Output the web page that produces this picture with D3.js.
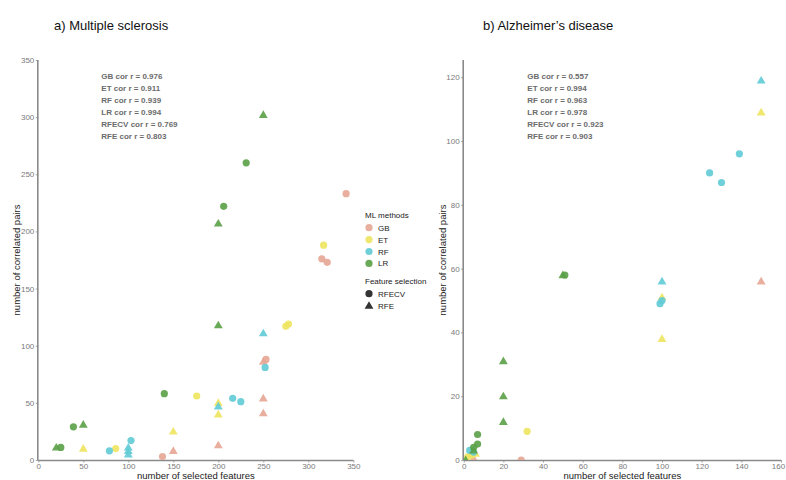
<!DOCTYPE html>
<html>
<head>
<meta charset="utf-8">
<script src="https://cdn.jsdelivr.net/npm/d3@7"></script>
<style>
  html, body { margin: 0; padding: 0; background: #fff; }
  svg { display: block; font-family: "Liberation Sans", Arial, sans-serif; }
</style>
</head>
<body>
<svg id="chart" width="786" height="480"></svg>
<script>
// ---- Data: [selected features, correlated pairs, feature-selection method] ----
// a) Multiple sclerosis
const msGB = [[138,3,"RFECV"],[150,8,"RFE"],[200,13,"RFE"],[250,41,"RFE"],[250,54,"RFE"],[250,86,"RFE"],[253,88,"RFECV"],[315,176,"RFECV"],[321,173,"RFECV"],[342,233,"RFECV"]];
const msET = [[50,10,"RFE"],[86,10,"RFECV"],[150,25,"RFE"],[176,56,"RFECV"],[200,50,"RFE"],[200,40,"RFE"],[275,117,"RFECV"],[278,119,"RFECV"],[317,188,"RFECV"]];
const msRF = [[79,8,"RFECV"],[100,5,"RFE"],[100,8,"RFE"],[100,11,"RFE"],[103,17,"RFECV"],[200,47,"RFE"],[216,54,"RFECV"],[225,51,"RFECV"],[252,81,"RFECV"],[250,111,"RFE"]];
const msLR = [[20,11,"RFE"],[25,11,"RFECV"],[39,29,"RFECV"],[50,31,"RFE"],[140,58,"RFECV"],[200,118,"RFE"],[200,207,"RFE"],[206,222,"RFECV"],[231,260,"RFECV"],[250,302,"RFE"]];

// b) Alzheimer's disease
const adGB = [[29,0,"RFECV"],[5,0.5,"RFE"],[150,56,"RFE"]];
const adET = [[2,1,"RFECV"],[4,1.5,"RFECV"],[6,2,"RFE"],[32,9,"RFECV"],[100,38,"RFE"],[100,51,"RFE"],[150,109,"RFE"]];
const adRF = [[3,3,"RFECV"],[5,2.5,"RFECV"],[99,49,"RFECV"],[100,50,"RFECV"],[100,56,"RFE"],[124,90,"RFECV"],[130,87,"RFECV"],[139,96,"RFECV"],[150,119,"RFE"]];
const adLR = [[1,0,"RFE"],[5,3,"RFE"],[5,4,"RFECV"],[7,5,"RFECV"],[7,8,"RFECV"],[20,12,"RFE"],[20,20,"RFE"],[20,31,"RFE"],[50,58,"RFE"],[51,58,"RFECV"]];

// Correlation annotations
const corrLabels = ["GB", "ET", "RF", "LR", "RFECV", "RFE"];
const msCorr = ["0.976", "0.911", "0.939", "0.994", "0.769", "0.803"];
const adCorr = ["0.557", "0.994", "0.963", "0.978", "0.923", "0.903"];

// Axis ticks
const msXTicks = [0, 50, 100, 150, 200, 250, 300, 350];
const msYTicks = [0, 50, 100, 150, 200, 250, 300, 350];
const adXTicks = [0, 20, 40, 60, 80, 100, 120, 140, 160];
const adYTicks = [0, 20, 40, 60, 80, 100, 120];

const methods = ["GB", "ET", "RF", "LR"];
const methodColors = ["#E6A593", "#EEE45E", "#60CBD6", "#5AA046"];
const selections = ["RFECV", "RFE"];

// ---- Drawing ----
const svg = d3.select("#chart");
const color = d3.scaleOrdinal().domain(methods).range(methodColors);
const circleSym = d3.symbol().type(d3.symbolCircle).size(Math.PI * 3.6 * 3.6);
const triSym = d3.symbol().type(d3.symbolTriangle).size(34);

function panel(cfg) {
  const x = d3.scaleLinear().domain(cfg.xDomain).range([cfg.left, cfg.right]);
  const y = d3.scaleLinear().domain(cfg.yDomain).range([cfg.bottom, cfg.top]);
  const g = svg.append("g");

  // title
  g.append("text")
    .attr("x", cfg.titleX).attr("y", 30)
    .attr("font-size", 13).attr("fill", "#111")
    .text(cfg.title);

  // clip for points
  const clipId = "clip-" + cfg.id;
  svg.append("clipPath").attr("id", clipId)
    .append("rect")
    .attr("x", cfg.left - 6).attr("y", cfg.top - 6)
    .attr("width", cfg.right - cfg.left + 12)
    .attr("height", cfg.bottom - cfg.top + 6);

  // axes
  const xAxis = d3.axisBottom(x).tickValues(cfg.xTicks).tickSize(2.5).tickPadding(0.5);
  const yAxis = d3.axisLeft(y).tickValues(cfg.yTicks).tickSize(2.5).tickPadding(1.5);

  const gx = g.append("g").attr("transform", `translate(0,${cfg.bottom})`).call(xAxis);
  const gy = g.append("g").attr("transform", `translate(${cfg.left},0)`).call(yAxis);
  [gx, gy].forEach(a => {
    a.select(".domain").attr("stroke", "#8a8a8a").attr("stroke-width", 1.6);
    a.selectAll(".tick line").attr("stroke", "#8a8a8a").attr("stroke-width", 0.8);
    a.selectAll(".tick text").attr("fill", "#7a7a7a").attr("font-size", 8)
      .attr("font-family", "Liberation Sans, Arial, sans-serif");
  });
  // keep the last x label inside the page edge
  gx.selectAll(".tick text").filter(d => x(d) + 7 > 785).attr("dx", -3);
  // flat ends on the axis lines
  gx.select(".domain").attr("d", `M${cfg.left},0.5H${cfg.right}`);
  gy.select(".domain").attr("d", `M-0.5,${cfg.bottom}V${cfg.top}`);

  // axis titles
  g.append("text")
    .attr("x", (cfg.left + cfg.right) / 2).attr("y", 479)
    .attr("text-anchor", "middle").attr("font-size", 9.5).attr("fill", "#222")
    .text("number of selected features");
  g.append("text")
    .attr("transform", `translate(${cfg.yTitleX},${(cfg.top + cfg.bottom) / 2}) rotate(-90)`)
    .attr("text-anchor", "middle").attr("font-size", 9.5).attr("fill", "#222")
    .text("number of correlated pairs");

  // correlation annotations
  const ann = g.append("g").attr("font-size", 8).attr("font-weight", "bold").attr("fill", "#6b6b6b");
  corrLabels.forEach((lab, i) => {
    ann.append("text")
      .attr("x", cfg.annX).attr("y", 79 + i * 12)
      .text(`${lab} cor r = ${cfg.corr[i]}`);
  });

  // points
  const pts = g.append("g").attr("clip-path", `url(#${clipId})`);
  cfg.series.forEach(([m, data]) => {
    pts.selectAll(null)
      .data(data)
      .enter().append("path")
      .attr("d", d => d[2] === "RFE" ? triSym() : circleSym())
      .attr("transform", d => `translate(${x(d[0])},${y(d[1]) + (d[2] === "RFE" ? 0.6 : 0)})`)
      .attr("fill", color(m))
      .attr("fill-opacity", 0.9);
  });
}

panel({
  id: "ms", title: "a) Multiple sclerosis", titleX: 54,
  xDomain: [0, 350], yDomain: [0, 350],
  left: 38.3, right: 353.3, top: 60, bottom: 460,
  xTicks: msXTicks, yTicks: msYTicks, yTitleX: 19.5, annX: 101.3,
  corr: msCorr,
  series: [["GB", msGB], ["ET", msET], ["RF", msRF], ["LR", msLR]]
});

panel({
  id: "ad", title: "b) Alzheimer\u2019s disease", titleX: 483,
  xDomain: [0, 160], yDomain: [0, 125.4],
  left: 463.7, right: 781, top: 60, bottom: 460,
  xTicks: adXTicks, yTicks: adYTicks, yTitleX: 446, annX: 527.3,
  corr: adCorr,
  series: [["GB", adGB], ["ET", adET], ["RF", adRF], ["LR", adLR]]
});

// ---- Legend ----
const lg = svg.append("g").attr("font-size", 8).attr("fill", "#222");
lg.append("text").attr("x", 365).attr("y", 218).text("ML methods");
methods.forEach((m, i) => {
  const cy = 227.7 + i * 11.9;
  lg.append("path").attr("d", circleSym())
    .attr("transform", `translate(369,${cy})`)
    .attr("fill", color(m)).attr("fill-opacity", 0.9);
  lg.append("text").attr("x", 378).attr("y", cy + 3).text(m);
});
lg.append("text").attr("x", 365).attr("y", 284).text("Feature selection");
selections.forEach((s, i) => {
  const cy = 293.7 + i * 12;
  lg.append("path").attr("d", s === "RFE" ? triSym() : circleSym())
    .attr("transform", `translate(369,${cy + (s === "RFE" ? 0.6 : 0)})`)
    .attr("fill", "#333");
  lg.append("text").attr("x", 378).attr("y", cy + 3).text(s);
});
</script>
</body>
</html>
